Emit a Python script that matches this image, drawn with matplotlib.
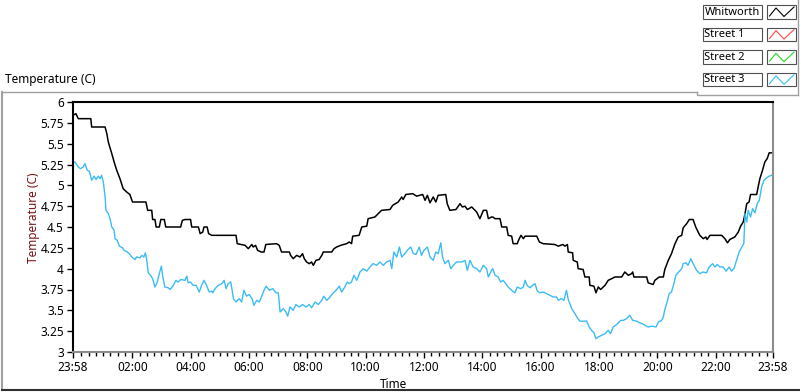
import numpy as np
import matplotlib.pyplot as plt
from matplotlib.lines import Line2D
from matplotlib.patches import Rectangle

plt.rcParams['font.family'] = ['Noto Sans', 'DejaVu Sans']
plt.rcParams['font.size'] = 8.5

# time = hours since 23:58 (start of the record)
whitworth_h = [0.00, 0.10, 0.18, 0.61, 0.64, 1.10, 1.16, 1.21, 1.33, 1.41, 1.50, 1.61, 1.72, 1.84, 1.95, 2.04, 2.50, 2.56, 2.70,
               2.73, 2.81, 2.85, 2.96, 3.01, 3.13, 3.18, 3.69, 3.75, 3.84, 4.03, 4.07, 4.30, 4.36, 4.45, 4.49, 4.60, 4.65, 4.76,
               5.59, 5.63, 5.90, 6.01, 6.13, 6.18, 6.26, 6.33, 6.45, 6.55, 6.61, 6.98, 7.07, 7.15, 7.42, 7.46, 7.55, 7.67, 7.78, 7.87,
               7.93, 8.01, 8.10, 8.18, 8.24, 8.33, 8.44, 8.53, 8.58, 8.87, 8.95, 9.04, 9.18, 9.38, 9.47, 9.55,
               9.59, 9.81, 9.90, 10.07, 10.12, 10.35, 10.52, 10.58, 10.87, 10.96, 11.15, 11.27, 11.32, 11.41, 11.65, 11.78, 11.99,
               12.07, 12.15, 12.24, 12.35, 12.44, 12.52, 12.78, 12.83, 12.92, 13.13, 13.27, 13.35, 13.44, 13.52, 13.67, 13.84, 13.95,
               14.07, 14.18, 14.24, 14.35,
               14.39, 14.47, 14.64, 14.70, 14.87, 14.92, 15.04, 15.09, 15.23, 15.30, 15.36, 15.44, 15.50, 15.90, 15.99, 16.12, 16.52,
               16.64, 16.79, 16.87, 16.95, 16.98, 17.13, 17.15, 17.29, 17.32, 17.49, 17.55, 17.70, 17.72, 17.86, 17.93, 18.01, 18.09,
               18.24, 18.35, 18.47, 18.58, 18.81, 18.92, 19.04, 19.15,
               19.19, 19.23, 19.67, 19.72, 19.89, 19.95, 20.10, 20.24, 20.29, 20.41, 20.52, 20.64, 20.75, 20.87, 20.92, 21.04, 21.13,
               21.26, 21.35, 21.49, 21.61, 21.70, 21.74, 21.84, 22.24, 22.35, 22.44, 22.52, 22.69, 22.81, 22.89, 22.98, 23.04, 23.10,
               23.18, 23.23, 23.44, 23.49, 23.55, 23.64, 23.72, 23.80, 23.87, 23.95]
whitworth_t = [5.84, 5.86, 5.80, 5.80, 5.70, 5.70, 5.62, 5.52, 5.38, 5.28, 5.18, 5.08, 4.96, 4.92, 4.89, 4.80, 4.80, 4.70, 4.70,
               4.59, 4.59, 4.50, 4.50, 4.59, 4.59, 4.50, 4.50, 4.58, 4.59, 4.59, 4.50, 4.50, 4.42, 4.44, 4.50, 4.50, 4.42, 4.40,
               4.40, 4.30, 4.28, 4.24, 4.29, 4.26, 4.28, 4.22, 4.20, 4.20, 4.29, 4.30, 4.28, 4.20, 4.20, 4.16, 4.12, 4.16, 4.14, 4.18,
               4.12, 4.08, 4.06, 4.08, 4.04, 4.10, 4.11, 4.16, 4.20, 4.20, 4.24, 4.26, 4.28, 4.30, 4.32, 4.30,
               4.39, 4.40, 4.50, 4.51, 4.60, 4.62, 4.68, 4.70, 4.71, 4.76, 4.80, 4.86, 4.83, 4.89, 4.90, 4.87, 4.89,
               4.82, 4.88, 4.79, 4.86, 4.80, 4.88, 4.89, 4.78, 4.70, 4.71, 4.78, 4.74, 4.75, 4.71, 4.74, 4.68, 4.60,
               4.70, 4.70, 4.60, 4.62,
               4.62, 4.60, 4.60, 4.50, 4.50, 4.40, 4.39, 4.30, 4.30, 4.36, 4.40, 4.36, 4.39, 4.39, 4.32, 4.30, 4.29,
               4.27, 4.29, 4.27, 4.29, 4.20, 4.19, 4.10, 4.08, 4.00, 3.99, 3.90, 3.90, 3.80, 3.79, 3.71, 3.78, 3.75,
               3.80, 3.86, 3.88, 3.90, 3.90, 3.96, 3.92, 3.94,
               3.96, 3.90, 3.90, 3.83, 3.81, 3.86, 3.90, 3.90, 3.99, 4.10, 4.18, 4.30, 4.38, 4.40, 4.49, 4.54, 4.59,
               4.59, 4.50, 4.40, 4.36, 4.38, 4.35, 4.40, 4.40, 4.36, 4.31, 4.35, 4.38, 4.44, 4.51, 4.56, 4.66, 4.78,
               4.80, 4.89, 4.89, 4.98, 5.08, 5.18, 5.28, 5.32, 5.39, 5.39]

street3_h = [0.00, 0.07, 0.18, 0.26, 0.35, 0.41, 0.49, 0.56, 0.64, 0.72, 0.79, 0.87, 0.93, 0.98, 1.04, 1.10, 1.13, 1.21, 1.27,
             1.33, 1.41, 1.44, 1.52, 1.59, 1.70, 1.75, 1.86, 1.93, 2.01, 2.13, 2.18, 2.30, 2.36, 2.43, 2.48, 2.53, 2.58, 2.66,
             2.73, 2.81, 2.89, 2.96, 3.03, 3.08, 3.15, 3.27, 3.33, 3.44, 3.53, 3.61, 3.69, 3.84, 3.90, 3.95, 4.03, 4.12, 4.22,
             4.33, 4.41, 4.49, 4.58, 4.67, 4.76,
             4.79, 4.87, 4.98, 5.10, 5.18, 5.25, 5.32, 5.41, 5.50, 5.59, 5.70, 5.78, 5.86, 5.95, 6.04, 6.14, 6.20, 6.30, 6.39,
             6.47, 6.55, 6.62, 6.73, 6.85, 6.96, 7.04, 7.10, 7.21, 7.30, 7.36, 7.44, 7.55, 7.64, 7.76, 7.87, 7.99, 8.10, 8.18,
             8.30, 8.41, 8.53, 8.60, 8.70, 8.79, 8.90, 9.02, 9.13, 9.21, 9.32, 9.40, 9.47, 9.55,
             9.63, 9.73, 9.84, 9.95, 10.07, 10.18, 10.29, 10.41, 10.52, 10.64, 10.75, 10.87, 10.93, 11.00, 11.10, 11.19, 11.27,
             11.38, 11.46, 11.58, 11.67, 11.76, 11.87, 11.95, 12.03, 12.15, 12.24, 12.35, 12.44, 12.52, 12.61, 12.67, 12.75,
             12.87, 12.95, 13.04, 13.15, 13.33, 13.44, 13.52, 13.61, 13.72, 13.84, 13.95, 14.07, 14.18, 14.24, 14.35,
             14.39, 14.47, 14.58, 14.66, 14.75, 14.84, 14.92, 15.04, 15.15, 15.23, 15.35, 15.44, 15.50, 15.57, 15.67, 15.76,
             15.84, 15.92, 16.01, 16.12, 16.24, 16.35, 16.47, 16.58, 16.64, 16.75, 16.83, 16.92, 16.98, 17.10, 17.21, 17.29,
             17.38, 17.49, 17.61, 17.70, 17.78, 17.86, 17.93, 18.01, 18.12, 18.24, 18.35, 18.43, 18.52, 18.64, 18.78, 18.87,
             18.98, 19.09,
             19.19, 19.32, 19.44, 19.57, 19.72, 19.84, 19.99, 20.07, 20.18, 20.24, 20.29, 20.37, 20.44, 20.52, 20.60, 20.67,
             20.79, 20.87, 20.92, 21.01, 21.09, 21.18, 21.26, 21.38, 21.49, 21.59, 21.72, 21.81, 21.93, 22.01, 22.09, 22.18,
             22.29, 22.39, 22.50, 22.58, 22.66, 22.75, 22.84, 22.93, 23.00, 23.04, 23.10, 23.15, 23.23, 23.30, 23.38, 23.46,
             23.53, 23.61, 23.69, 23.78, 23.87, 23.95]
street3_t = [5.27, 5.28, 5.22, 5.20, 5.22, 5.26, 5.18, 5.17, 5.06, 5.11, 5.07, 5.11, 5.08, 5.12, 5.04, 4.86, 4.70, 4.66, 4.60,
             4.50, 4.46, 4.36, 4.34, 4.27, 4.25, 4.22, 4.20, 4.18, 4.14, 4.11, 4.14, 4.13, 4.16, 4.14, 4.19, 4.10, 3.95, 3.92,
             3.88, 3.78, 3.84, 3.94, 4.03, 3.90, 3.78, 3.77, 3.75, 3.80, 3.86, 3.84, 3.87, 3.86, 3.91, 3.83, 3.84, 3.80, 3.80,
             3.72, 3.80, 3.86, 3.80, 3.72, 3.73,
             3.71, 3.76, 3.80, 3.82, 3.86, 3.76, 3.82, 3.84, 3.64, 3.60, 3.64, 3.60, 3.74, 3.67, 3.69, 3.64, 3.56, 3.62, 3.60,
             3.67, 3.74, 3.79, 3.74, 3.76, 3.71, 3.71, 3.48, 3.52, 3.48, 3.43, 3.54, 3.50, 3.57, 3.54, 3.57, 3.54, 3.57, 3.53,
             3.60, 3.57, 3.62, 3.67, 3.62, 3.65, 3.70, 3.74, 3.79, 3.72, 3.78, 3.84, 3.82, 3.84,
             3.92, 3.86, 3.96, 4.00, 3.97, 4.02, 4.06, 4.04, 4.08, 4.04, 4.08, 4.10, 4.00, 4.20, 4.14, 4.26, 4.14,
             4.18, 4.22, 4.26, 4.18, 4.17, 4.26, 4.16, 4.22, 4.26, 4.14, 4.10, 4.20, 4.18, 4.31, 4.14, 4.06,
             4.10, 4.00, 4.04, 4.08, 4.08, 4.10, 3.98, 4.10, 4.02, 4.00, 3.96, 4.04, 4.00, 3.90, 3.98,
             4.00, 3.92, 3.90, 3.84, 3.86, 3.82, 3.78, 3.74, 3.71, 3.78, 3.76, 3.78, 3.86, 3.80, 3.77, 3.80,
             3.82, 3.73, 3.71, 3.72, 3.70, 3.68, 3.66, 3.66, 3.62, 3.64, 3.62, 3.74, 3.63, 3.52, 3.46, 3.41,
             3.37, 3.37, 3.37, 3.30, 3.26, 3.23, 3.16, 3.18, 3.20, 3.22, 3.26, 3.22, 3.30, 3.33, 3.38, 3.38,
             3.40, 3.44,
             3.38, 3.37, 3.35, 3.33, 3.30, 3.31, 3.30, 3.36, 3.38, 3.42, 3.51, 3.60, 3.70, 3.72, 3.82, 3.92,
             3.97, 4.00, 4.06, 4.07, 4.04, 4.12, 4.06, 3.98, 3.94, 3.96, 3.95, 4.02, 4.06, 4.02, 4.05, 4.02,
             4.02, 3.97, 4.02, 3.97, 4.00, 4.10, 4.20, 4.26, 4.30, 4.66, 4.56, 4.70, 4.62, 4.72, 4.67, 4.78,
             4.82, 4.98, 5.06, 5.09, 5.11, 5.12]

series_names = ['Whitworth', 'Street 1', 'Street 2', 'Street 3']
series_colors = ['#000000', '#ff4848', '#22dd22', '#3cbcf4']

y_ticks = np.arange(3, 6.001, 0.25)
x_labels = ['23:58', '02:00', '04:00', '06:00', '08:00', '10:00', '12:00',
            '14:00', '16:00', '18:00', '20:00', '22:00', '23:58']

W, H = 800, 392
fig = plt.figure(figsize=(W / 100, H / 100), dpi=100)

# overlay in pixel coordinates for the frame and the legend
deco = fig.add_axes([0, 0, 1, 1])
deco.set_xlim(0, W)
deco.set_ylim(H, 0)
deco.axis('off')

ax = fig.add_axes([73 / W, 40 / H, 700 / W, 250 / H])
ax.plot(whitworth_h, whitworth_t, color=series_colors[0], lw=1.1)
ax.plot(street3_h, street3_t, color=series_colors[3], lw=1.0)
ax.set_xlim(0, 24)
ax.set_ylim(3, 6)

ax.set_yticks(y_ticks)
ax.set_yticklabels(['%g' % v for v in y_ticks])

def clock_to_h(s, last=False):
    hh, mm = map(int, s.split(':'))
    if last:
        return 24.0
    return ((hh * 60 + mm + 2) % 1440) / 60

x_pos = [clock_to_h(s, i == len(x_labels) - 1) for i, s in enumerate(x_labels)]
ax.set_xticks(x_pos)
ax.set_xticklabels(x_labels)
minor = [(m + 2) / 60 for m in range(15, 1440, 15) if m % 120 != 0]
ax.set_xticks(minor, minor=True)

ax.tick_params(axis='both', which='major', direction='out', length=4, width=1, colors='black', pad=2.5, labelsize=8.5)
ax.tick_params(axis='x', which='minor', direction='out', length=3, width=1, colors='black')
for side in ['top', 'left']:
    ax.spines[side].set_color('black')
    ax.spines[side].set_linewidth(1.5)
for side in ['bottom', 'right']:
    ax.spines[side].set_color('#8c8c8c')
    ax.spines[side].set_linewidth(1.5)

fig.text(33 / W, 1 - 218 / H, 'Temperature (C)', rotation=90, ha='center', va='center', color='#7a1414', fontsize=8.5)
fig.text(393 / W, 1 - 384 / H, 'Time', ha='center', va='center', fontsize=8.5)
fig.text(5 / W, 1 - 80 / H, 'Temperature (C)', ha='left', va='center', fontsize=8.5)

# outer frame
deco.plot([1.5, 697], [91.5, 91.5], color='#a0a0a0', lw=1)
deco.plot([1.5, 1.5], [91.5, 390], color='#a0a0a0', lw=1.5)
deco.plot([1.5, 799], [390, 390], color='#303030', lw=1.5)
deco.plot([697, 697, 798], [91.5, 94.5, 94.5], color='#a0a0a0', lw=1)
deco.plot([798, 798], [0, 94.5], color='#a0a0a0', lw=1)

# legend
for i, (name, col) in enumerate(zip(series_names, series_colors)):
    top = 5 + 22.6 * i
    deco.add_patch(Rectangle((703, top), 59, 13.5, facecolor='white', edgecolor='#505050', lw=0.8))
    deco.add_patch(Rectangle((767, top), 29, 13.5, facecolor='white', edgecolor='#505050', lw=0.8))
    deco.text(704.5, top + 7, name, ha='left', va='center', fontsize=8)
    deco.add_line(Line2D([769.5, 776, 784, 794], [top + 11, top + 3, top + 11.5, top + 2],
                         color=col, lw=0.8))

fig.savefig('out.png', dpi=100)
